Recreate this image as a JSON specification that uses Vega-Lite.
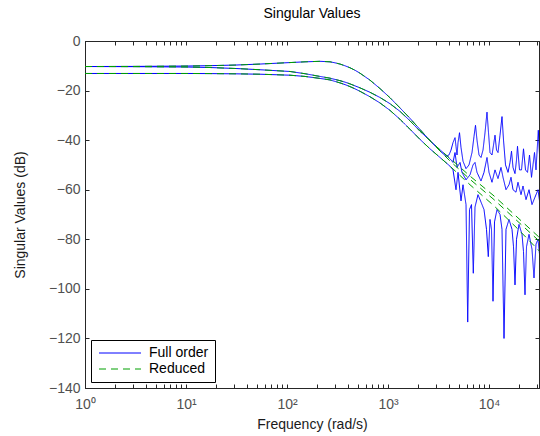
{
  "$schema": "https://vega.github.io/schema/vega-lite/v6.json",
  "width": 454,
  "height": 347,
  "autosize": "none",
  "padding": {"left": 85, "top": 41, "right": 1, "bottom": 48},
  "background": "white",
  "config": {
    "font": "Liberation Sans",
    "view": {"stroke": "#262626", "strokeWidth": 1},
    "axis": {"grid": false, "domainColor": "#262626", "tickColor": "#262626", "labelFont": "Liberation Sans", "labelFontSize": 14, "labelColor": "#505050", "titleFont": "Liberation Sans", "titleFontSize": 14, "titleFontWeight": "normal", "titleColor": "#1a1a1a"}
  },
  "title": {"text": "Singular Values", "font": "Liberation Sans", "fontSize": 14, "fontWeight": "normal", "color": "#000000", "offset": 13, "anchor": "middle"},
  "datasets": {
    "full": [
      {"freq": 1, "dB": -10.3, "sv": "a"}, {"freq": 3.126, "dB": -10.25, "sv": "a"}, {"freq": 10, "dB": -10.1, "sv": "a"}, {"freq": 17.28, "dB": -9.95, "sv": "a"}, {"freq": 31.26, "dB": -9.7, "sv": "a"}, {"freq": 54.04, "dB": -9.3, "sv": "a"}, {"freq": 107.1, "dB": -8.7, "sv": "a"}, {"freq": 150.8, "dB": -8.4, "sv": "a"}, {"freq": 212.2, "dB": -8.2, "sv": "a"}, {"freq": 266.5, "dB": -8.4, "sv": "a"}, {"freq": 298.5, "dB": -8.8, "sv": "a"}, {"freq": 334.8, "dB": -9.3, "sv": "a"}, {"freq": 375.3, "dB": -10.0, "sv": "a"}, {"freq": 420.6, "dB": -10.8, "sv": "a"}, {"freq": 471.2, "dB": -11.8, "sv": "a"}, {"freq": 528.3, "dB": -13.0, "sv": "a"}, {"freq": 663.5, "dB": -15.8, "sv": "a"}, {"freq": 833.4, "dB": -19.2, "sv": "a"}, {"freq": 1047, "dB": -22.9, "sv": "a"}, {"freq": 1315, "dB": -27.0, "sv": "a"}, {"freq": 1651, "dB": -31.2, "sv": "a"}, {"freq": 2074, "dB": -35.7, "sv": "a"}, {"freq": 2605, "dB": -40.2, "sv": "a"}, {"freq": 3273, "dB": -44.4, "sv": "a"},
      {"freq": 3752, "dB": -46.5, "sv": "a"}, {"freq": 4018, "dB": -46.0, "sv": "a"}, {"freq": 4206, "dB": -44.0, "sv": "a"}, {"freq": 4402, "dB": -41.0, "sv": "a"}, {"freq": 4607, "dB": -39.0, "sv": "a"}, {"freq": 4713, "dB": -42.5, "sv": "a"}, {"freq": 4823, "dB": -46.0, "sv": "a"}, {"freq": 4934, "dB": -41.0, "sv": "a"}, {"freq": 5105, "dB": -37.0, "sv": "a"}, {"freq": 5283, "dB": -43.0, "sv": "a"}, {"freq": 5530, "dB": -48.5, "sv": "a"}, {"freq": 5922, "dB": -51.5, "sv": "a"}, {"freq": 6339, "dB": -50.0, "sv": "a"}, {"freq": 6787, "dB": -45.0, "sv": "a"}, {"freq": 7104, "dB": -38.5, "sv": "a"}, {"freq": 7350, "dB": -34.0, "sv": "a"}, {"freq": 7606, "dB": -40.0, "sv": "a"}, {"freq": 7962, "dB": -46.0, "sv": "a"}, {"freq": 8333, "dB": -47.0, "sv": "a"}, {"freq": 8722, "dB": -44.0, "sv": "a"}, {"freq": 9130, "dB": -37.0, "sv": "a"}, {"freq": 9554, "dB": -28.7, "sv": "a"}, {"freq": 9886, "dB": -37.0, "sv": "a"}, {"freq": 10231, "dB": -45.0, "sv": "a"}, {"freq": 10708, "dB": -46.0, "sv": "a"}, {"freq": 11081, "dB": -42.0, "sv": "a"}, {"freq": 11466, "dB": -38.0, "sv": "a"}, {"freq": 11866, "dB": -44.0, "sv": "a"}, {"freq": 12279, "dB": -45.0, "sv": "a"}, {"freq": 12853, "dB": -38.0, "sv": "a"}, {"freq": 13452, "dB": -30.5, "sv": "a"}, {"freq": 13921, "dB": -40.0, "sv": "a"}, {"freq": 14570, "dB": -50.0, "sv": "a"}, {"freq": 15424, "dB": -53.0, "sv": "a"}, {"freq": 16143, "dB": -49.0, "sv": "a"}, {"freq": 16706, "dB": -44.5, "sv": "a"}, {"freq": 17285, "dB": -51.0, "sv": "a"}, {"freq": 18087, "dB": -53.5, "sv": "a"}, {"freq": 18718, "dB": -48.0, "sv": "a"}, {"freq": 19150, "dB": -42.5, "sv": "a"}, {"freq": 20045, "dB": -52.0, "sv": "a"}, {"freq": 20980, "dB": -52.0, "sv": "a"}, {"freq": 21960, "dB": -43.5, "sv": "a"}, {"freq": 22984, "dB": -52.0, "sv": "a"}, {"freq": 24056, "dB": -53.0, "sv": "a"}, {"freq": 25177, "dB": -46.0, "sv": "a"}, {"freq": 26353, "dB": -55.0, "sv": "a"}, {"freq": 27267, "dB": -50.0, "sv": "a"}, {"freq": 28216, "dB": -45.0, "sv": "a"}, {"freq": 29195, "dB": -52.0, "sv": "a"}, {"freq": 30768, "dB": -36.0, "sv": "a"}, {"freq": 31989, "dB": -50.0, "sv": "a"},

      {"freq": 1, "dB": -10.3, "sv": "b"}, {"freq": 3.126, "dB": -10.35, "sv": "b"}, {"freq": 10, "dB": -10.5, "sv": "b"}, {"freq": 17.28, "dB": -10.7, "sv": "b"}, {"freq": 31.26, "dB": -11.1, "sv": "b"}, {"freq": 54.04, "dB": -11.6, "sv": "b"}, {"freq": 107.1, "dB": -12.3, "sv": "b"}, {"freq": 150.8, "dB": -13.2, "sv": "b"}, {"freq": 212.2, "dB": -14.3, "sv": "b"}, {"freq": 266.5, "dB": -15.0, "sv": "b"}, {"freq": 298.5, "dB": -15.5, "sv": "b"}, {"freq": 334.8, "dB": -16.0, "sv": "b"}, {"freq": 375.3, "dB": -16.6, "sv": "b"}, {"freq": 420.6, "dB": -17.3, "sv": "b"}, {"freq": 471.2, "dB": -18.1, "sv": "b"}, {"freq": 528.3, "dB": -18.9, "sv": "b"}, {"freq": 663.5, "dB": -20.7, "sv": "b"}, {"freq": 833.4, "dB": -22.8, "sv": "b"}, {"freq": 1047, "dB": -25.3, "sv": "b"}, {"freq": 1315, "dB": -28.4, "sv": "b"}, {"freq": 1651, "dB": -32.2, "sv": "b"}, {"freq": 2074, "dB": -36.4, "sv": "b"}, {"freq": 2605, "dB": -40.2, "sv": "b"}, {"freq": 3273, "dB": -43.9, "sv": "b"},
      {"freq": 4111, "dB": -47.5, "sv": "b"}, {"freq": 4402, "dB": -49.0, "sv": "b"}, {"freq": 4607, "dB": -45.0, "sv": "b"}, {"freq": 4823, "dB": -51.0, "sv": "b"}, {"freq": 5164, "dB": -49.0, "sv": "b"}, {"freq": 5405, "dB": -53.0, "sv": "b"}, {"freq": 5922, "dB": -56.0, "sv": "b"}, {"freq": 6485, "dB": -54.0, "sv": "b"}, {"freq": 6944, "dB": -50.0, "sv": "b"}, {"freq": 7267, "dB": -49.0, "sv": "b"}, {"freq": 7606, "dB": -53.0, "sv": "b"}, {"freq": 8333, "dB": -56.5, "sv": "b"}, {"freq": 8922, "dB": -53.0, "sv": "b"}, {"freq": 9554, "dB": -47.0, "sv": "b"}, {"freq": 10000, "dB": -53.0, "sv": "b"}, {"freq": 10708, "dB": -57.0, "sv": "b"}, {"freq": 11466, "dB": -52.0, "sv": "b"}, {"freq": 12279, "dB": -55.5, "sv": "b"}, {"freq": 13149, "dB": -51.0, "sv": "b"}, {"freq": 13762, "dB": -55.0, "sv": "b"}, {"freq": 14735, "dB": -60.0, "sv": "b"}, {"freq": 15779, "dB": -58.0, "sv": "b"}, {"freq": 16515, "dB": -55.0, "sv": "b"}, {"freq": 17285, "dB": -60.0, "sv": "b"}, {"freq": 18505, "dB": -61.0, "sv": "b"}, {"freq": 19367, "dB": -57.0, "sv": "b"}, {"freq": 20740, "dB": -62.0, "sv": "b"}, {"freq": 21708, "dB": -58.5, "sv": "b"}, {"freq": 23245, "dB": -64.0, "sv": "b"}, {"freq": 24888, "dB": -60.0, "sv": "b"}, {"freq": 26652, "dB": -66.0, "sv": "b"}, {"freq": 28538, "dB": -63.0, "sv": "b"}, {"freq": 30556, "dB": -60.0, "sv": "b"}, {"freq": 31989, "dB": -66.0, "sv": "b"},

      {"freq": 1, "dB": -13.1, "sv": "c"}, {"freq": 3.126, "dB": -13.1, "sv": "c"}, {"freq": 10, "dB": -13.1, "sv": "c"}, {"freq": 17.28, "dB": -13.15, "sv": "c"}, {"freq": 31.26, "dB": -13.25, "sv": "c"}, {"freq": 54.04, "dB": -13.4, "sv": "c"}, {"freq": 107.1, "dB": -13.8, "sv": "c"}, {"freq": 150.8, "dB": -14.3, "sv": "c"}, {"freq": 212.2, "dB": -15.1, "sv": "c"}, {"freq": 266.5, "dB": -15.7, "sv": "c"}, {"freq": 298.5, "dB": -16.3, "sv": "c"}, {"freq": 334.8, "dB": -16.9, "sv": "c"}, {"freq": 375.3, "dB": -17.6, "sv": "c"}, {"freq": 420.6, "dB": -18.4, "sv": "c"}, {"freq": 471.2, "dB": -19.3, "sv": "c"}, {"freq": 528.3, "dB": -20.3, "sv": "c"}, {"freq": 663.5, "dB": -22.5, "sv": "c"}, {"freq": 833.4, "dB": -25.0, "sv": "c"}, {"freq": 1047, "dB": -28.0, "sv": "c"}, {"freq": 1315, "dB": -31.6, "sv": "c"}, {"freq": 1651, "dB": -35.6, "sv": "c"}, {"freq": 2074, "dB": -39.7, "sv": "c"}, {"freq": 2605, "dB": -43.5, "sv": "c"}, {"freq": 3273, "dB": -47.0, "sv": "c"},
      {"freq": 4111, "dB": -50.5, "sv": "c"}, {"freq": 4402, "dB": -52.0, "sv": "c"}, {"freq": 4713, "dB": -60.0, "sv": "c"}, {"freq": 4934, "dB": -53.0, "sv": "c"}, {"freq": 5283, "dB": -64.5, "sv": "c"}, {"freq": 5530, "dB": -58.0, "sv": "c"}, {"freq": 5922, "dB": -66.0, "sv": "c"}, {"freq": 6153, "dB": -113.4, "sv": "c"}, {"freq": 6411, "dB": -68.0, "sv": "c"}, {"freq": 6710, "dB": -66.0, "sv": "c"}, {"freq": 6992, "dB": -93.7, "sv": "c"}, {"freq": 7267, "dB": -67.0, "sv": "c"}, {"freq": 7782, "dB": -62.0, "sv": "c"}, {"freq": 8333, "dB": -65.0, "sv": "c"}, {"freq": 8922, "dB": -68.0, "sv": "c"}, {"freq": 9446, "dB": -76.0, "sv": "c"}, {"freq": 9842, "dB": -87.0, "sv": "c"}, {"freq": 10231, "dB": -72.0, "sv": "c"}, {"freq": 10587, "dB": -76.0, "sv": "c"}, {"freq": 10955, "dB": -105.0, "sv": "c"}, {"freq": 11336, "dB": -73.0, "sv": "c"}, {"freq": 12002, "dB": -68.0, "sv": "c"}, {"freq": 12853, "dB": -70.0, "sv": "c"}, {"freq": 13452, "dB": -76.0, "sv": "c"}, {"freq": 14079, "dB": -120.0, "sv": "c"}, {"freq": 14735, "dB": -76.0, "sv": "c"}, {"freq": 15779, "dB": -72.0, "sv": "c"}, {"freq": 16895, "dB": -76.0, "sv": "c"}, {"freq": 17485, "dB": -83.0, "sv": "c"}, {"freq": 18087, "dB": -98.4, "sv": "c"}, {"freq": 18718, "dB": -80.0, "sv": "c"}, {"freq": 19815, "dB": -74.0, "sv": "c"}, {"freq": 21218, "dB": -78.0, "sv": "c"}, {"freq": 21960, "dB": -85.0, "sv": "c"}, {"freq": 22722, "dB": -102.4, "sv": "c"}, {"freq": 23514, "dB": -83.0, "sv": "c"}, {"freq": 24888, "dB": -78.0, "sv": "c"}, {"freq": 26652, "dB": -84.0, "sv": "c"}, {"freq": 27895, "dB": -95.6, "sv": "c"}, {"freq": 29195, "dB": -82.0, "sv": "c"}, {"freq": 30556, "dB": -80.0, "sv": "c"}, {"freq": 31989, "dB": -88.0, "sv": "c"}
    ],
    "reduced": [
      {"freq": 1, "dB": -10.3, "sv": "a"}, {"freq": 3.126, "dB": -10.25, "sv": "a"}, {"freq": 10, "dB": -10.1, "sv": "a"}, {"freq": 17.28, "dB": -9.95, "sv": "a"}, {"freq": 31.26, "dB": -9.7, "sv": "a"}, {"freq": 54.04, "dB": -9.3, "sv": "a"}, {"freq": 107.1, "dB": -8.7, "sv": "a"}, {"freq": 150.8, "dB": -8.4, "sv": "a"}, {"freq": 212.2, "dB": -8.2, "sv": "a"}, {"freq": 266.5, "dB": -8.4, "sv": "a"}, {"freq": 298.5, "dB": -8.8, "sv": "a"}, {"freq": 334.8, "dB": -9.3, "sv": "a"}, {"freq": 375.3, "dB": -10.0, "sv": "a"}, {"freq": 420.6, "dB": -10.8, "sv": "a"}, {"freq": 471.2, "dB": -11.8, "sv": "a"}, {"freq": 528.3, "dB": -13.0, "sv": "a"}, {"freq": 663.5, "dB": -15.8, "sv": "a"}, {"freq": 833.4, "dB": -19.2, "sv": "a"}, {"freq": 1047, "dB": -22.9, "sv": "a"}, {"freq": 1315, "dB": -27.0, "sv": "a"}, {"freq": 1651, "dB": -31.2, "sv": "a"}, {"freq": 2074, "dB": -35.7, "sv": "a"}, {"freq": 2605, "dB": -40.2, "sv": "a"}, {"freq": 3273, "dB": -44.4, "sv": "a"}, {"freq": 4111, "dB": -48.4, "sv": "a"}, {"freq": 6485, "dB": -55.8, "sv": "a"}, {"freq": 11207, "dB": -64.0, "sv": "a"}, {"freq": 18930, "dB": -72.5, "sv": "a"}, {"freq": 31989, "dB": -81.0, "sv": "a"},
      {"freq": 1, "dB": -10.3, "sv": "b"}, {"freq": 3.126, "dB": -10.35, "sv": "b"}, {"freq": 10, "dB": -10.5, "sv": "b"}, {"freq": 17.28, "dB": -10.7, "sv": "b"}, {"freq": 31.26, "dB": -11.1, "sv": "b"}, {"freq": 54.04, "dB": -11.6, "sv": "b"}, {"freq": 107.1, "dB": -12.3, "sv": "b"}, {"freq": 150.8, "dB": -13.2, "sv": "b"}, {"freq": 212.2, "dB": -14.3, "sv": "b"}, {"freq": 266.5, "dB": -15.0, "sv": "b"}, {"freq": 298.5, "dB": -15.5, "sv": "b"}, {"freq": 334.8, "dB": -16.0, "sv": "b"}, {"freq": 375.3, "dB": -16.6, "sv": "b"}, {"freq": 420.6, "dB": -17.3, "sv": "b"}, {"freq": 471.2, "dB": -18.1, "sv": "b"}, {"freq": 528.3, "dB": -18.9, "sv": "b"}, {"freq": 663.5, "dB": -20.7, "sv": "b"}, {"freq": 833.4, "dB": -22.8, "sv": "b"}, {"freq": 1047, "dB": -25.3, "sv": "b"}, {"freq": 1315, "dB": -28.4, "sv": "b"}, {"freq": 1651, "dB": -32.2, "sv": "b"}, {"freq": 2074, "dB": -36.4, "sv": "b"}, {"freq": 2605, "dB": -40.2, "sv": "b"}, {"freq": 3273, "dB": -43.9, "sv": "b"}, {"freq": 4111, "dB": -47.3, "sv": "b"}, {"freq": 6485, "dB": -54.5, "sv": "b"}, {"freq": 11207, "dB": -62.5, "sv": "b"}, {"freq": 18930, "dB": -71.0, "sv": "b"}, {"freq": 31989, "dB": -79.5, "sv": "b"},
      {"freq": 1, "dB": -13.1, "sv": "c"}, {"freq": 3.126, "dB": -13.1, "sv": "c"}, {"freq": 10, "dB": -13.1, "sv": "c"}, {"freq": 17.28, "dB": -13.15, "sv": "c"}, {"freq": 31.26, "dB": -13.25, "sv": "c"}, {"freq": 54.04, "dB": -13.4, "sv": "c"}, {"freq": 107.1, "dB": -13.8, "sv": "c"}, {"freq": 150.8, "dB": -14.3, "sv": "c"}, {"freq": 212.2, "dB": -15.1, "sv": "c"}, {"freq": 266.5, "dB": -15.7, "sv": "c"}, {"freq": 298.5, "dB": -16.3, "sv": "c"}, {"freq": 334.8, "dB": -16.9, "sv": "c"}, {"freq": 375.3, "dB": -17.6, "sv": "c"}, {"freq": 420.6, "dB": -18.4, "sv": "c"}, {"freq": 471.2, "dB": -19.3, "sv": "c"}, {"freq": 528.3, "dB": -20.3, "sv": "c"}, {"freq": 663.5, "dB": -22.5, "sv": "c"}, {"freq": 833.4, "dB": -25.0, "sv": "c"}, {"freq": 1047, "dB": -28.0, "sv": "c"}, {"freq": 1315, "dB": -31.6, "sv": "c"}, {"freq": 1651, "dB": -35.6, "sv": "c"}, {"freq": 2074, "dB": -39.7, "sv": "c"}, {"freq": 2605, "dB": -43.5, "sv": "c"}, {"freq": 3273, "dB": -47.0, "sv": "c"}, {"freq": 4111, "dB": -50.5, "sv": "c"}, {"freq": 6485, "dB": -58.0, "sv": "c"}, {"freq": 11207, "dB": -66.5, "sv": "c"}, {"freq": 18930, "dB": -75.5, "sv": "c"}, {"freq": 31989, "dB": -85.0, "sv": "c"}
    ]
  },
  "layer": [
    {
      "data": {"name": "full"},
      "mark": {"type": "line", "strokeWidth": 1, "clip": true},
      "encoding": {
        "x": {"field": "freq", "type": "quantitative", "scale": {"type": "log", "domain": [1, 31260], "nice": false},
          "axis": {"orient": "bottom", "values": [1,2,3,4,5,6,7,8,9,10,20,30,40,50,60,70,80,90,100,200,300,400,500,600,700,800,900,1000,2000,3000,4000,5000,6000,7000,8000,9000,10000,20000,30000],
            "labelExpr": "datum.value == 1 ? '10⁰' : datum.value == 10 ? '10¹' : datum.value == 100 ? '10²' : datum.value == 1000 ? '10³' : datum.value == 10000 ? '10⁴' : ''",
            "tickSize": -4, "labelPadding": 13, "labelFlush": false, "labelOverlap": false,
            "title": "Frequency (rad/s)", "titleY": 29, "titleBaseline": "top"}},
        "y": {"field": "dB", "type": "quantitative", "scale": {"domain": [-140, 0], "nice": false},
          "axis": {"orient": "left", "values": [-140,-120,-100,-80,-60,-40,-20,0], "format": "d",
            "labelExpr": "replace(datum.label, '-', '−')",
            "tickSize": -4, "labelPadding": 9, "labelOverlap": false, "labelFlush": false,
            "title": "Singular Values (dB)", "titleX": -58, "titleY": 173.5, "titleAlign": "center", "titleBaseline": "bottom", "titleAngle": 270}},
        "detail": {"field": "sv"},
        "color": {"datum": "Full order", "type": "nominal", "scale": {"domain": ["Full order", "Reduced"], "range": ["#0000ff", "#00a000"]},
          "legend": {"title": null, "orient": "bottom-left", "offset": 6, "symbolType": "M-4.2,0H4.2", "symbolSize": 100, "symbolOffset": 16, "symbolStrokeWidth": 1, "labelFont": "Liberation Sans", "labelFontSize": 14, "labelColor": "#000000", "labelOffset": 22, "fillColor": "#ffffff", "strokeColor": "#000000", "padding": 6, "rowPadding": 2}},
        "strokeDash": {"datum": "Full order", "type": "nominal", "scale": {"domain": ["Full order", "Reduced"], "range": [[1, 0], [7, 5]]},
          "legend": {"title": null, "orient": "bottom-left", "offset": 6, "symbolType": "M-4.2,0H4.2", "symbolSize": 100, "symbolOffset": 16, "symbolStrokeWidth": 1, "labelFont": "Liberation Sans", "labelFontSize": 14, "labelColor": "#000000", "labelOffset": 22, "fillColor": "#ffffff", "strokeColor": "#000000", "padding": 6, "rowPadding": 2}}
      }
    },
    {
      "data": {"name": "reduced"},
      "mark": {"type": "line", "strokeWidth": 1, "clip": true},
      "encoding": {
        "x": {"field": "freq", "type": "quantitative",
          "axis": {"orient": "top", "values": [1,2,3,4,5,6,7,8,9,10,20,30,40,50,60,70,80,90,100,200,300,400,500,600,700,800,900,1000,2000,3000,4000,5000,6000,7000,8000,9000,10000,20000,30000], "labels": false, "tickSize": -4, "title": null}},
        "y": {"field": "dB", "type": "quantitative",
          "axis": {"orient": "right", "values": [-140,-120,-100,-80,-60,-40,-20,0], "labels": false, "tickSize": -4, "title": null}},
        "detail": {"field": "sv"},
        "color": {"datum": "Reduced", "type": "nominal"},
        "strokeDash": {"datum": "Reduced", "type": "nominal"}
      }
    }
  ],
  "resolve": {"axis": {"x": "independent", "y": "independent"}}
}
